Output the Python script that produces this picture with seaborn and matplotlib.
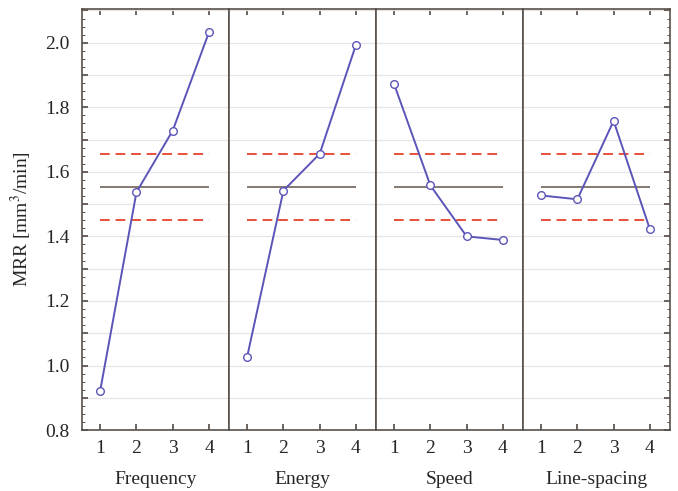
import numpy as np
import pandas as pd
import matplotlib
matplotlib.use("Agg")
import matplotlib.pyplot as plt
import seaborn as sns
from matplotlib.ticker import MultipleLocator, FuncFormatter

factors = ["Frequency", "Energy", "Speed", "Line-spacing"]
levels = [1, 2, 3, 4]
freq_vals = [0.922, 1.537, 1.728, 2.033]
energy_vals = [1.027, 1.542, 1.656, 1.994]
speed_vals = [1.872, 1.558, 1.400, 1.389]
spacing_vals = [1.527, 1.515, 1.758, 1.422]
grand_mean = 1.554
limit_upper = 1.656
limit_lower = 1.451

series = [freq_vals, energy_vals, speed_vals, spacing_vals]
df = pd.DataFrame({
    "factor": np.repeat(factors, len(levels)),
    "level": levels * len(factors),
    "MRR": np.concatenate(series),
})

sns.set_theme(style="white")
plt.rcParams["font.family"] = ["Liberation Serif", "DejaVu Serif"]
plt.rcParams["mathtext.fontset"] = "stix"

fig, axes = plt.subplots(1, 4, sharey=True, figsize=(6.78, 4.91), dpi=100)
fig.subplots_adjust(left=0.121, right=0.988, top=0.982, bottom=0.124, wspace=0)

line_col = "#5b55b8"
edge_col = "#5a504a"
fs = 14


def ylab(v, pos):
    k = int(round(v * 10))
    return f"{v:.1f}" if k % 2 == 0 else ""


for ax, f in zip(axes, factors):
    sub = df[df["factor"] == f]
    ax.hlines(grand_mean, 1, 4, color="#7a6e66", lw=1.3, zorder=2)
    ax.hlines([limit_upper, limit_lower], 1, 4, color="#e8503a", lw=1.4,
              linestyles=(0, (5, 3)), zorder=2)
    sns.lineplot(data=sub, x="level", y="MRR", ax=ax, color=line_col, lw=1.4,
                 marker="o", markersize=5.5, markerfacecolor="white",
                 markeredgecolor=line_col, markeredgewidth=1.0, zorder=3)
    ax.set_xlim(0.5, 4.55)
    ax.set_ylim(0.8, 2.105)
    ax.set_xticks(levels)
    ax.set_xticklabels([str(l) for l in levels])
    ax.set_xlabel(f, fontsize=fs, labelpad=10)
    ax.set_ylabel("")
    ax.yaxis.set_major_locator(MultipleLocator(0.1))
    ax.yaxis.set_minor_locator(MultipleLocator(0.025))
    ax.yaxis.set_major_formatter(FuncFormatter(ylab))
    ax.grid(True, which="major", axis="y", color="#e6e6e6", lw=0.9)
    ax.set_axisbelow(True)
    for sp in ax.spines.values():
        sp.set_color(edge_col)
        sp.set_linewidth(1.2)
    ax.tick_params(axis="x", direction="in", top=True, bottom=True, length=4,
                   color=edge_col, labelsize=fs, pad=7)
    ax.tick_params(axis="y", which="major", direction="in", left=(ax is axes[0]),
                   right=(ax is axes[-1]), length=4, color=edge_col, labelsize=fs,
                   pad=9)
    ax.tick_params(axis="y", which="minor", direction="in", left=(ax is axes[0]),
                   right=(ax is axes[-1]), length=2, width=0.7, color=edge_col)

axes[0].set_ylabel("MRR [mm$^3$/min]", fontsize=fs, labelpad=8)

fig.savefig("out.png", dpi=100)
